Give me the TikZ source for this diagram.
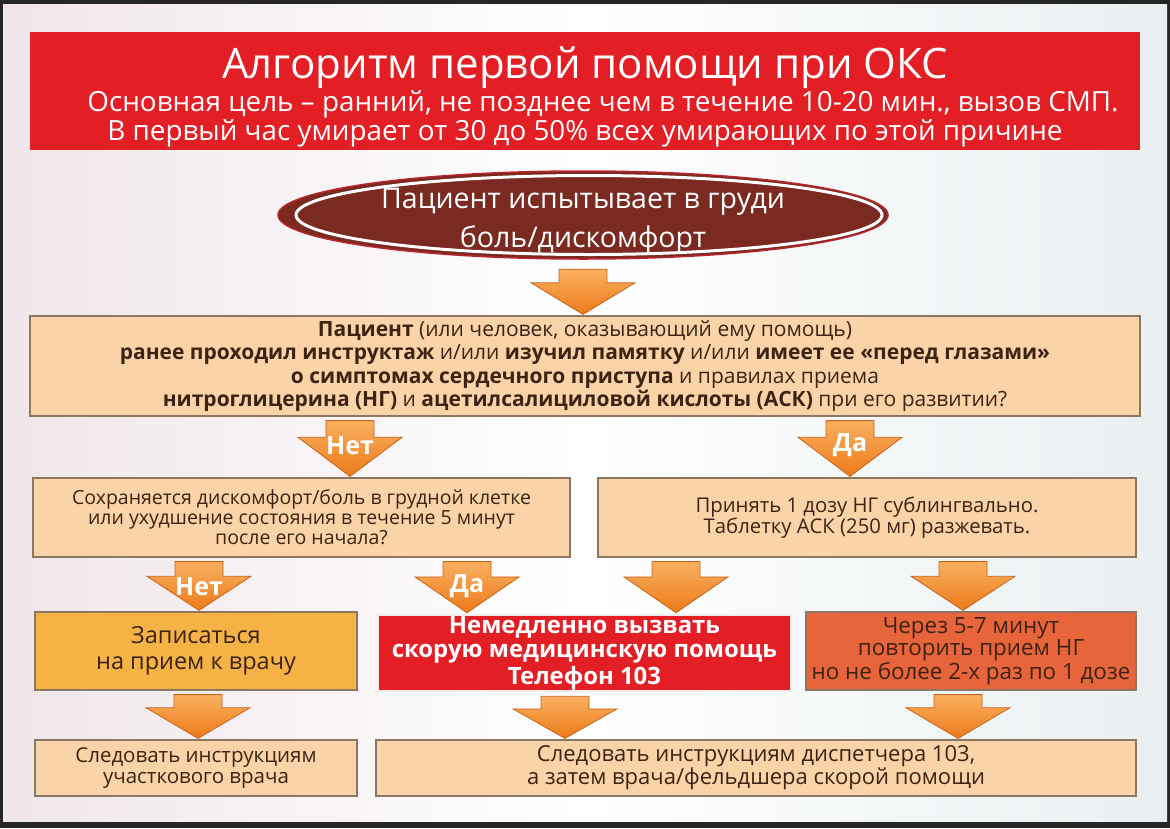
\documentclass[tikz,border=0pt]{standalone}
\usepackage{fontspec}
\setmainfont{Open Sans}
\usetikzlibrary{calc}

\definecolor{frame}{HTML}{262626}
\definecolor{bgleft}{HTML}{F0E6EA}
\definecolor{bgright}{HTML}{E9EFF1}
\definecolor{hdrred}{HTML}{E31E24}
\definecolor{ovalbrown}{HTML}{7A2A20}
\definecolor{ovalline}{HTML}{B8262C}
\definecolor{peach}{HTML}{FAD4A8}
\definecolor{boxline}{HTML}{8C7762}
\definecolor{txtbrown}{HTML}{3C2313}
\definecolor{ambox}{HTML}{F5B245}
\definecolor{repbox}{HTML}{E8653B}
\definecolor{arrtop}{HTML}{F9B060}
\definecolor{arrbot}{HTML}{EC7A1A}
\definecolor{arrline}{HTML}{C86418}

\tikzset{
  box/.style={draw=boxline, line width=1.2pt, fill=peach, text=txtbrown, align=center, inner sep=0pt,
    font=\fontsize{19.5}{20}\selectfont},
  hdrtext/.style={text=white, align=center, inner sep=0pt},
  ovaltext/.style={text=white, align=center, inner sep=0pt, font=\fontsize{28.5}{39}\selectfont},
  flow/.style={draw=arrline, line width=0.8pt, top color=arrtop, bottom color=arrbot},
  flowtext/.style={text=white, inner sep=0pt, font=\bfseries\fontsize{25}{25}\selectfont}
}

\newcommand{\flowdown}[5]{%
  \path[flow] let \p1=(#3,0 |- #1.south), \p2=(#3,0 |- #2.north), \n1={0.7*(\y1-\y2-5pt)} in
    (\x1-24pt,\y1-4pt) -- (\x1+24pt,\y1-4pt) -- (\x1+24pt,\y2+1pt+\n1) -- (\x1+52pt,\y2+1pt+\n1)
    -- (\x1,\y2+1pt) -- (\x1-52pt,\y2+1pt+\n1) -- (\x1-24pt,\y2+1pt+\n1) -- cycle;
  \node[flowtext] (#4) at ($(#3,0 |- #1.south)+(0,-29pt)$) {#5};
}

\begin{document}
\begin{tikzpicture}[x=1pt,y=-1pt]
\fill[frame] (0,0) rectangle (1170,828);
\shade[left color=bgleft, right color=bgright, middle color=white] (3,4) rectangle (1167,821);

\fill[hdrred] (30,32) rectangle (1140,150);
\node[hdrtext] (head) at (585,97) {\fontsize{42}{44}\selectfont Алгоритм первой помощи при ОКС\\[1pt]
  \fontsize{27.8}{30}\selectfont\hspace*{36pt}Основная цель – ранний, не позднее чем в течение 10-20 мин., вызов СМП.\\
  \fontsize{27.8}{30}\selectfont В первый час умирает от 30 до 50\% всех умирающих по этой причине};

\coordinate (startc) at (583,215);
\filldraw[fill=ovalbrown, draw=ovalline, line width=1.5pt] (startc) ellipse [x radius=305pt, y radius=44pt];
\draw[white, line width=3pt] ($(startc)+(6pt,0)$) ellipse [x radius=293pt, y radius=39.5pt];
\node[ovaltext, minimum width=610pt, minimum height=88pt] (start) at (583,221)
  {Пациент испытывает в груди\\боль/дискомфорт};

\node[box, minimum width=1110pt, minimum height=100pt, font=\fontsize{21}{23.5}\selectfont] (ask) at (585,366)
  {\textbf{Пациент} (или человек, оказывающий ему помощь)\\
   \textbf{ранее проходил инструктаж} и/или \textbf{изучил памятку} и/или \textbf{имеет ее «перед глазами»}\\
   \textbf{о симптомах сердечного приступа} и правилах приема\\
   \textbf{нитроглицерина (НГ)} и \textbf{ацетилсалициловой кислоты (АСК)} при его развитии?\rule[-4pt]{0pt}{4pt}};

\node[box, minimum width=537pt, minimum height=79pt] (pain) at (301.5,517.5)
  {Сохраняется дискомфорт/боль в грудной клетке\\или ухудшение состояния в течение 5 минут\\после его начала?};
\node[box, minimum width=538pt, minimum height=79pt, font=\fontsize{20.3}{21}\selectfont] (take) at (867,517.5)
  {Принять 1 дозу НГ сублингвально.\\Таблетку АСК (250 мг) разжевать.};

\node[box, fill=ambox, minimum width=322pt, minimum height=78pt, font=\fontsize{23.5}{26}\selectfont] (visit) at (196,651)
  {Записаться\\на прием к врачу};
\node[box, fill=hdrred, text=white, draw=white!85!gray, line width=2.5pt, minimum width=413pt, minimum height=76pt,
  font=\bfseries\fontsize{23.9}{24}\selectfont] (call) at (584.5,653)
  {Немедленно вызвать\\скорую медицинскую помощь\\[3pt]Телефон 103};
\node[box, fill=repbox, minimum width=330pt, minimum height=78pt, font=\fontsize{22.4}{22}\selectfont] (again) at (971,651)
  {\rule{0pt}{5pt}Через 5-7 минут\\повторить прием НГ\\но не более 2-х раз по 1 дозе};

\node[box, minimum width=322pt, minimum height=56pt, font=\fontsize{20.5}{21}\selectfont] (local) at (196,768)
  {Следовать инструкциям\\участкового врача};
\node[box, minimum width=760pt, minimum height=56pt, font=\fontsize{22}{21}\selectfont] (disp) at (756,768)
  {Следовать инструкциям диспетчера 103,\\а затем врача/фельдшера скорой помощи};

\flowdown{start}{ask}{583}{f0}{}
\flowdown{ask}{pain}{350}{no1}{Нет}
\flowdown{ask}{take}{850}{yes1}{Да}
\flowdown{pain}{visit}{199}{no2}{Нет}
\flowdown{pain}{call}{467}{yes2}{Да}
\flowdown{take}{call}{676}{f1}{}
\flowdown{take}{again}{963}{f2}{}
\flowdown{visit}{local}{198}{f3}{}
\flowdown{call}{disp}{565}{f4}{}
\flowdown{again}{disp}{958}{f5}{}
\end{tikzpicture}
\end{document}
